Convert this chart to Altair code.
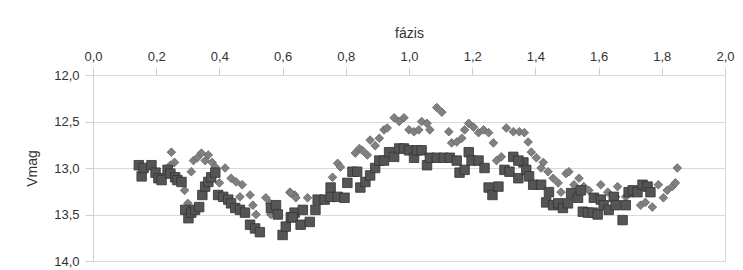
import altair as alt
import pandas as pd

# Series 1 (dark squares): phase, Vmag
sq_phase = [0.145, 0.154, 0.16, 0.185, 0.198, 0.207, 0.217, 0.236, 0.245, 0.26, 0.267, 0.28,
            0.292, 0.302, 0.311, 0.323, 0.336, 0.346, 0.355, 0.365, 0.374, 0.387, 0.396, 0.412,
            0.428, 0.437, 0.45, 0.465, 0.481, 0.497, 0.513, 0.528, 0.563, 0.579, 0.585, 0.6,
            0.61, 0.626, 0.638, 0.632, 0.657, 0.686, 0.664, 0.704, 0.711, 0.733, 0.752, 0.752,
            0.774, 0.796, 0.805, 0.821, 0.836, 0.846, 0.862, 0.877, 0.893, 0.906, 0.921, 0.937,
            0.953, 0.969, 0.984, 1.0, 1.016, 1.025, 1.04, 1.057, 1.066, 1.088, 1.11, 1.129,
            1.151, 1.16, 1.176, 1.189, 1.198, 1.22, 1.239, 1.252, 1.264, 1.283, 1.302, 1.318,
            1.33, 1.346, 1.362, 1.346, 1.371, 1.38, 1.393, 1.418, 1.434, 1.443, 1.456, 1.472,
            1.487, 1.503, 1.513, 1.535, 1.544, 1.55, 1.566, 1.582, 1.597, 1.585, 1.607, 1.616,
            1.632, 1.648, 1.654, 1.676, 1.686, 1.695, 1.708, 1.723, 1.739, 1.755, 1.764]
sq_vmag = [12.97, 13.09, 13.0, 12.97, 13.05, 13.11, 13.13, 13.02, 13.06, 13.1, 13.13, 13.15,
           13.45, 13.54, 13.48, 13.45, 13.42, 13.29, 13.2, 13.15, 13.1, 13.05, 13.29, 13.31,
           13.34, 13.38, 13.43, 13.45, 13.48, 13.61, 13.65, 13.69, 13.43, 13.4, 13.5, 13.72,
           13.63, 13.53, 13.48, 13.53, 13.61, 13.58, 13.45, 13.45, 13.34, 13.34, 13.31, 13.21,
           13.31, 13.32, 13.16, 13.04, 13.04, 13.21, 13.15, 13.08, 13.0, 12.92, 12.92, 12.83,
           12.88, 12.79, 12.79, 12.81, 12.89, 12.81, 12.81, 12.97, 12.89, 12.89, 12.89, 12.89,
           12.92, 13.05, 13.02, 12.83, 12.92, 12.92, 13.0, 13.21, 13.29, 13.2, 13.02, 13.04,
           12.88, 13.11, 12.94, 12.92, 13.02, 13.09, 13.18, 13.18, 13.37, 13.26, 13.4, 13.38,
           13.43, 13.38, 13.27, 13.32, 13.24, 13.47, 13.48, 13.48, 13.5, 13.32, 13.34, 13.4,
           13.45, 13.31, 13.4, 13.56, 13.4, 13.26, 13.24, 13.26, 13.18, 13.2, 13.26]

# Series 2 (light diamonds): phase, Vmag
dm_phase = [0.248, 0.258, 0.245, 0.29, 0.3, 0.311, 0.318, 0.33, 0.343, 0.355, 0.365, 0.377,
            0.387, 0.4, 0.418, 0.437, 0.453, 0.472, 0.465, 0.497, 0.506, 0.516, 0.547, 0.56,
            0.563, 0.623, 0.638, 0.626, 0.642, 0.679, 0.758, 0.774, 0.783, 0.83, 0.843, 0.852,
            0.868, 0.877, 0.893, 0.906, 0.921, 0.931, 0.953, 0.969, 0.984, 1.0, 1.016, 1.031,
            1.04, 1.057, 1.066, 1.088, 1.104, 1.126, 1.135, 1.151, 1.167, 1.176, 1.189, 1.204,
            1.22, 1.236, 1.252, 1.267, 1.277, 1.292, 1.308, 1.33, 1.349, 1.365, 1.377, 1.387,
            1.403, 1.425, 1.418, 1.44, 1.456, 1.472, 1.481, 1.497, 1.506, 1.522, 1.538, 1.553,
            1.569, 1.607, 1.629, 1.654, 1.66, 1.686, 1.733, 1.748, 1.77, 1.789, 1.805, 1.817,
            1.833, 1.843, 1.849]
dm_vmag = [12.83, 12.94, 12.97, 13.24, 13.38, 13.04, 12.92, 12.89, 12.84, 12.92, 12.86, 12.94,
           12.99, 13.16, 13.0, 13.11, 13.15, 13.18, 13.31, 13.29, 13.4, 13.5, 13.32, 13.38,
           13.5, 13.26, 13.29, 13.27, 13.32, 13.32, 13.1, 12.95, 12.99, 12.84, 12.79, 12.81,
           12.86, 12.7, 12.76, 12.68, 12.59, 12.57, 12.46, 12.5, 12.46, 12.59, 12.61, 12.59,
           12.5, 12.52, 12.59, 12.35, 12.4, 12.61, 12.73, 12.72, 12.68, 12.59, 12.52, 12.56,
           12.62, 12.59, 12.62, 12.73, 12.92, 12.88, 12.57, 12.61, 12.61, 12.62, 12.72, 12.83,
           12.89, 12.94, 13.0, 13.04, 13.11, 13.16, 13.26, 13.06, 13.04, 13.18, 13.11, 13.2,
           13.24, 13.18, 13.26, 13.31, 13.2, 13.31, 13.4, 13.37, 13.42, 13.18, 13.32, 13.24,
           13.2, 13.16, 13.0]

x_ticks = [0.0, 0.2, 0.4, 0.6, 0.8, 1.0, 1.2, 1.4, 1.6, 1.8, 2.0]
y_ticks = [12.0, 12.5, 13.0, 13.5, 14.0]

sq = pd.DataFrame({"phase": sq_phase, "vmag": sq_vmag})
dm = pd.DataFrame({"phase": dm_phase, "vmag": dm_vmag})

lbl = "replace(format(datum.value, '.1f'), '.', ',')"

x_enc = alt.X("phase:Q", title="fázis",
              scale=alt.Scale(domain=[0, 2], nice=False, zero=False),
              axis=alt.Axis(orient="top", values=x_ticks, labelExpr=lbl, grid=False,
                            domain=False, tickColor="#d0d0d0", tickSize=8,
                            labelFlush=False, labelPadding=4, titlePadding=10))
y_enc = alt.Y("vmag:Q", title="Vmag",
              scale=alt.Scale(domain=[12, 14], reverse=True, nice=False, zero=False),
              axis=alt.Axis(values=y_ticks, labelExpr=lbl, grid=True, gridColor="#d9d9d9",
                            domainColor="#d0d0d0", tickColor="#d0d0d0", tickSize=8,
                            labelFlush=False, labelPadding=6, titlePadding=14))

diamonds = alt.Chart(dm).mark_point(shape="diamond", filled=True, size=75,
                                     color="#808080", stroke="#666666",
                                     strokeWidth=0.8, opacity=1).encode(x=x_enc, y=y_enc)
squares = alt.Chart(sq).mark_point(shape="square", filled=True, size=90,
                                    color="#555555", stroke="#333333",
                                    strokeWidth=0.8, opacity=1).encode(x=x_enc, y=y_enc)

chart = (diamonds + squares).properties(
    width=632, height=186,
    autosize=alt.AutoSizeParams(type="none"),
    padding={"left": 85, "top": 67, "right": 10, "bottom": 9},
).configure_view(stroke="#d9d9d9").configure_axis(
    labelFont="Liberation Sans", titleFont="Liberation Sans",
    labelFontSize=13, titleFontSize=14, labelColor="#333333", titleColor="#333333",
    titleFontWeight="normal"
)

chart.save("out.html", embed_options={"renderer": "svg", "actions": False})
